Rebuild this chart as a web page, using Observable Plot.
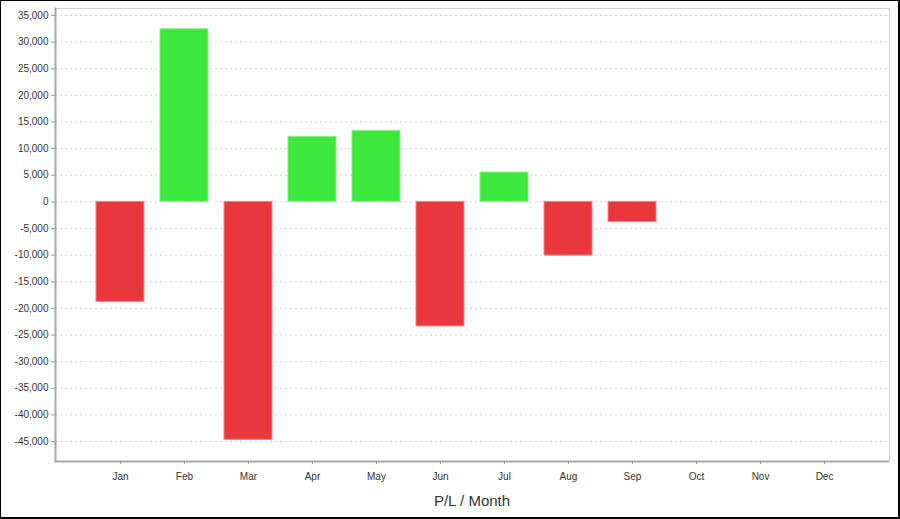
<!DOCTYPE html>
<html><head><meta charset="utf-8">
<script src="https://cdn.jsdelivr.net/npm/d3@7"></script>
<script src="https://cdn.jsdelivr.net/npm/@observablehq/plot@0.6"></script>
<style>
body{margin:0;background:#fff;}
#wrap{position:relative;width:900px;height:519px;overflow:hidden;font-family:"Liberation Sans",Arial,sans-serif;background:#fff;}
#chart{position:absolute;left:0;top:0;}
#border{position:absolute;left:0;top:0;width:900px;height:519px;box-sizing:border-box;border-style:solid;border-color:#000;border-width:1px 2px 2px 1px;pointer-events:none;}
#title{position:absolute;left:55px;width:834px;top:492px;text-align:center;font-size:15px;color:#333;}
</style></head>
<body><div id="wrap"><div id="chart"></div><div id="title">P/L / Month</div><div id="border"></div></div>
<script>
const months = ["Jan","Feb","Mar","Apr","May","Jun","Jul","Aug","Sep","Oct","Nov","Dec"];
const dataMonths = ["Jan","Feb","Mar","Apr","May","Jun","Jul","Aug","Sep"];
const pl = [-18800, 32400, -44700, 12200, 13300, -23400, 5500, -10100, -3800];
const yTicks = [35000, 30000, 25000, 20000, 15000, 10000, 5000, 0, -5000, -10000, -15000, -20000, -25000, -30000, -35000, -40000, -45000];

const data = dataMonths.map((m, i) => ({month: m, value: pl[i]}));
const fmt = d => (d < 0 ? "-" : "") + d3.format(",")(Math.abs(d));
const yMin = -48750, yMax = 36300;

const chart = Plot.plot({
  width: 900, height: 519,
  marginLeft: 55, marginRight: 11, marginTop: 8, marginBottom: 58,
  style: {fontFamily: "'Liberation Sans', Arial, sans-serif", fontSize: "10px", color: "#333", background: "transparent"},
  x: {domain: months, paddingInner: 0.25, paddingOuter: 0.64, round: false, label: null},
  y: {domain: [yMin, yMax], label: null},
  marks: [
    Plot.ruleY(yTicks, {stroke: "#d0d0d0", strokeDasharray: "2,3"}),
    Plot.barY(data, {x: "month", y: "value",
      fill: d => d.value >= 0 ? "#3ce83c" : "#e8383d",
      stroke: d => d.value >= 0 ? "#86f086" : "#f08a8d", strokeWidth: 1}),
    Plot.frame({stroke: "#cfcfcf"}),
    Plot.ruleY([yMin], {stroke: "#a8a8a8", strokeWidth: 2}),
    Plot.frame({anchor: "left", stroke: "#a8a8a8", strokeWidth: 2}),
    Plot.axisY({ticks: yTicks, tickFormat: fmt, tickSize: 4, tickPadding: 3, stroke: "#999", color: "#333"}),
    Plot.axisX({tickSize: 3, tickPadding: 8, stroke: "#999", color: "#333"})
  ]
});
document.getElementById("chart").appendChild(chart);
</script>
</body></html>
